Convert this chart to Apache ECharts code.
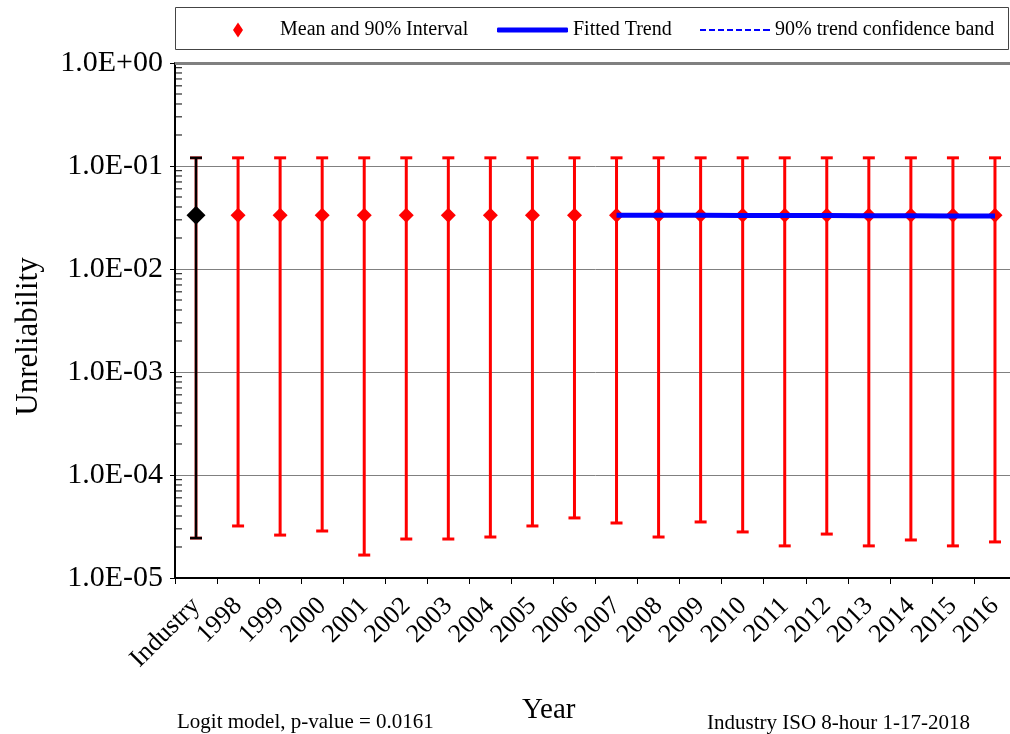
<!DOCTYPE html>
<html>
<head>
<meta charset="utf-8">
<script src="https://cdn.jsdelivr.net/npm/echarts@6/dist/echarts.min.js"></script>
<style>
html,body{margin:0;padding:0;background:#fff;overflow:hidden;}
#chart{width:1016px;height:734px;}
</style>
</head>
<body>
<div id="chart"></div>
<script>
const categories = ['Industry','1998','1999','2000','2001','2002','2003','2004','2005','2006','2007','2008','2009','2010','2011','2012','2013','2014','2015','2016'];
const meanValues = [0.0333,0.0333,0.0333,0.0333,0.0333,0.0333,0.0333,0.0333,0.0333,0.0333,0.0333,0.0333,0.0333,0.0333,0.0333,0.0333,0.0333,0.0333,0.0333,0.0333];
const upperValues = [0.12,0.12,0.12,0.12,0.12,0.12,0.12,0.12,0.12,0.12,0.12,0.12,0.12,0.12,0.12,0.12,0.12,0.12,0.12,0.12];
const lowerValues = [2.44e-5,3.20e-5,2.61e-5,2.86e-5,1.67e-5,2.39e-5,2.39e-5,2.50e-5,3.20e-5,3.83e-5,3.42e-5,2.50e-5,3.50e-5,2.80e-5,2.05e-5,2.67e-5,2.05e-5,2.34e-5,2.05e-5,2.24e-5];
const trendYears = ['2007','2008','2009','2010','2011','2012','2013','2014','2015','2016'];
const trendValues = [0.0333,0.0332,0.0332,0.0331,0.0330,0.0330,0.0329,0.0328,0.0327,0.0327];
const yTickLabels = {'-5':'1.0E-05','-4':'1.0E-04','-3':'1.0E-03','-2':'1.0E-02','-1':'1.0E-01','0':'1.0E+00'};
const minorMantissas = [2,3,4,5,6,7,8,9];
const minorDecades = [1e-5,1e-4,1e-3,1e-2,1e-1];

const FONT = "'Liberation Serif','Times New Roman',serif";

const errorData = categories.map((c,i)=>[i, lowerValues[i], upperValues[i]]);
const meanData = meanValues.map((v,i)=> i===0 ? {value:v, symbolSize:19, itemStyle:{color:'#000'}} : v);
const trendData = categories.map(c => { const k = trendYears.indexOf(c); return k>=0 ? trendValues[k] : null; });
const minorData = [];
minorDecades.forEach(d => minorMantissas.forEach(m => minorData.push([0, m*d])));

const chart = echarts.init(document.getElementById('chart'), null, {renderer:'canvas'});
chart.setOption({
  animation:false,
  backgroundColor:'#fff',
  textStyle:{fontFamily:FONT},
  title:[
    {text:'Year', left:522, top:696, padding:0, textStyle:{fontFamily:FONT, fontSize:29, fontWeight:'normal', color:'#000'}},
    {text:'Logit model, p-value = 0.0161', left:177, top:712, padding:0, textStyle:{fontFamily:FONT, fontSize:21, fontWeight:'normal', color:'#000'}},
    {text:'Industry ISO 8-hour 1-17-2018', left:707, top:713, padding:0, textStyle:{fontFamily:FONT, fontSize:21, fontWeight:'normal', color:'#000'}}
  ],
  graphic:[
    {type:'rect', shape:{x:175.5, y:7.5, width:833, height:42}, style:{fill:'#fff', stroke:'#444', lineWidth:1}, z:-1}
  ],
  legend:[
    {data:['Mean and 90% Interval'], left:233, top:20, padding:0, icon:'diamond', itemWidth:10, itemHeight:15,
     textStyle:{fontFamily:FONT, fontSize:20, color:'#000', padding:[0,0,0,32]}},
    {data:[{name:'Fitted Trend', icon:'roundRect', itemStyle:{color:'#0000ff'}}], left:497, top:20, padding:0, itemWidth:71, itemHeight:5,
     textStyle:{fontFamily:FONT, fontSize:20, color:'#000'}},
    {data:[{name:'90% trend confidence band', icon:'path://M0,0h6v2h-6z M9,0h6v2h-6z M18,0h6v2h-6z M27,0h6v2h-6z M36,0h6v2h-6z M45,0h6v2h-6z M54,0h6v2h-6z M63,0h7v2h-7z', itemStyle:{color:'#0000ff'}}],
     left:700, top:20, padding:0, itemWidth:70, itemHeight:2,
     textStyle:{fontFamily:FONT, fontSize:20, color:'#000'}}
  ],
  grid:{left:175, top:63, right:0, bottom:156, containLabel:false},
  xAxis:{
    type:'category', data:categories, boundaryGap:true,
    axisLine:{lineStyle:{color:'#000', width:2}},
    axisTick:{show:true, inside:false, length:6, lineStyle:{color:'#000', width:1}},
    axisLabel:{rotate:45, margin:24, padding:[12,0,0,0], fontFamily:FONT, fontSize:26, color:'#000', interval:0},
    splitLine:{show:false}
  },
  yAxis:{
    type:'log', logBase:10, min:1e-5, max:1,
    name:'Unreliability', nameLocation:'middle', nameGap:131, nameRotate:90,
    nameTextStyle:{fontFamily:FONT, fontSize:31, color:'#000', padding:[0,32,0,0]},
    axisLine:{show:true, lineStyle:{color:'#000', width:2}},
    axisTick:{show:true, inside:false, length:5, lineStyle:{color:'#000'}},
    axisLabel:{margin:12, fontFamily:FONT, fontSize:30, color:'#000', padding:[7,0,0,0],
      formatter:function(v){ const e = Math.round(Math.log10(v)); return yTickLabels[String(e)] || ''; }},
    splitLine:{show:true, lineStyle:{color:'#808080', width:1}}
  },
  series:[
    {
      name:'minorTicks', type:'custom', silent:true, z:1,
      data:minorData,
      renderItem:function(params, api){
        const p = api.coord([0, api.value(1)]);
        const x0 = params.coordSys.x;
        return {type:'line', shape:{x1:x0, y1:p[1], x2:x0+7, y2:p[1]}, style:{stroke:'#000', lineWidth:1}};
      }
    },
    {
      name:'errorBars', type:'custom', z:3, silent:true,
      data:errorData,
      renderItem:function(params, api){
        const i = api.value(0);
        const lo = api.coord([i, api.value(1)]);
        const hi = api.coord([i, api.value(2)]);
        const x = lo[0];
        const hw = 6;
        const isInd = i === 0;
        const children = [];
        if (isInd) {
          children.push({type:'line', shape:{x1:x, y1:hi[1], x2:x, y2:lo[1]}, style:{stroke:'#8b0000', lineWidth:3}});
          children.push({type:'line', shape:{x1:x-hw, y1:hi[1], x2:x+hw, y2:hi[1]}, style:{stroke:'#8b0000', lineWidth:3}});
          children.push({type:'line', shape:{x1:x-hw, y1:lo[1], x2:x+hw, y2:lo[1]}, style:{stroke:'#8b0000', lineWidth:3}});
        }
        const c = isInd ? '#000' : '#ff0000';
        const w = isInd ? 2 : 3;
        children.push({type:'line', shape:{x1:x, y1:hi[1], x2:x, y2:lo[1]}, style:{stroke:c, lineWidth:w}});
        children.push({type:'line', shape:{x1:x-hw, y1:hi[1], x2:x+hw, y2:hi[1]}, style:{stroke:c, lineWidth:w}});
        children.push({type:'line', shape:{x1:x-hw, y1:lo[1], x2:x+hw, y2:lo[1]}, style:{stroke:c, lineWidth:w}});
        return {type:'group', children:children};
      }
    },
    {
      name:'Mean and 90% Interval', type:'scatter', z:4,
      symbol:'diamond', symbolSize:15,
      itemStyle:{color:'#ff0000', opacity:1},
      data:meanData
    },
    {
      name:'Fitted Trend', type:'line', z:5,
      data:trendData, symbol:'none', connectNulls:false,
      lineStyle:{color:'#0000ff', width:5},
      itemStyle:{color:'#0000ff'},
      markLine:{
        silent:true, symbol:['none','none'], label:{show:false},
        lineStyle:{color:'#808080', width:3, type:'solid'},
        data:[{yAxis:1}]
      }
    },
    {
      name:'90% trend confidence band', type:'line', z:5,
      data:[], symbol:'none',
      lineStyle:{color:'#0000ff', width:2, type:[6,3]},
      itemStyle:{color:'#0000ff'}
    }
  ]
});
</script>
</body>
</html>
